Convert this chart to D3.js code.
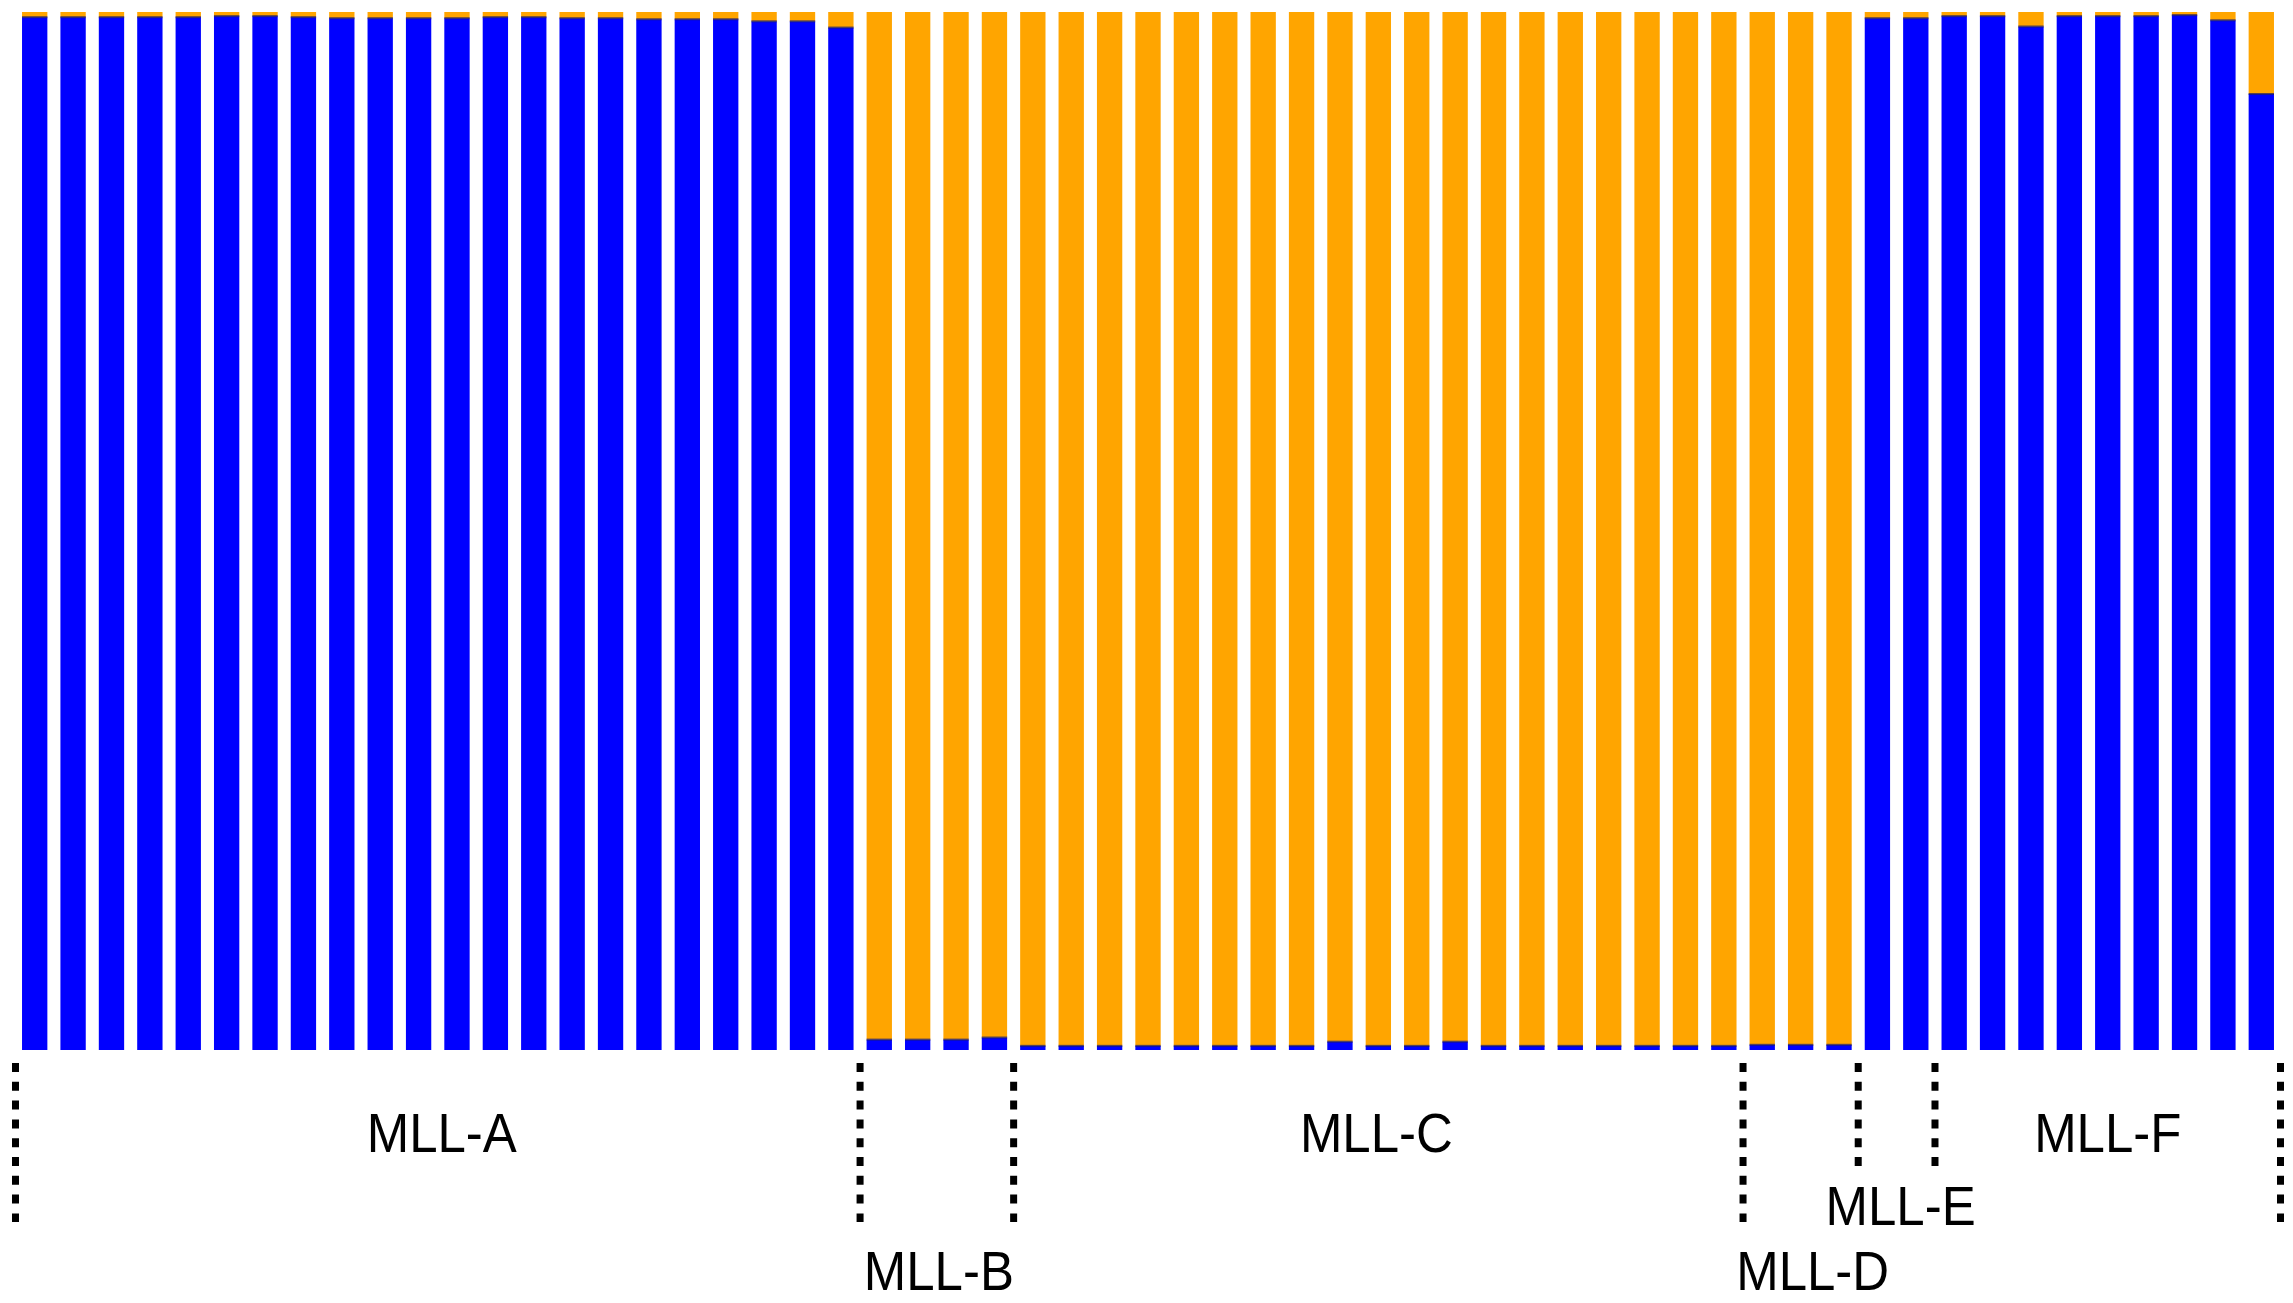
<!DOCTYPE html>
<html>
<head>
<meta charset="utf-8">
<script src="https://cdn.jsdelivr.net/npm/d3@7"></script>
<style>
  html, body { margin: 0; padding: 0; background: #fff; }
  svg { display: block; }
</style>
</head>
<body>
<svg id="chart" width="2293" height="1303"></svg>
<script>
// ---- Data ----
const groups = ["MLL-A", "MLL-B", "MLL-C", "MLL-D", "MLL-E", "MLL-F"];
const groupSizes = [22, 4, 19, 3, 2, 9];

// membership coefficient of the "blue" cluster for each individual (in order)
const blueA = [0.995, 0.995, 0.995, 0.995, 0.995, 0.996, 0.996, 0.995, 0.994, 0.994, 0.994,
               0.994, 0.995, 0.995, 0.994, 0.994, 0.993, 0.993, 0.993, 0.991, 0.991, 0.985];
const blueB = [0.010, 0.010, 0.010, 0.012];
const blueC = [0.004, 0.004, 0.004, 0.004, 0.004, 0.004, 0.004, 0.004, 0.008, 0.004,
               0.004, 0.008, 0.004, 0.004, 0.004, 0.004, 0.004, 0.004, 0.004];
const blueD = [0.005, 0.005, 0.005];
const blueE = [0.994, 0.994];
const blueF = [0.996, 0.996, 0.986, 0.996, 0.996, 0.996, 0.997, 0.992, 0.921];

// membership coefficient of the "orange" cluster
const orangeA = [0.005, 0.005, 0.005, 0.005, 0.005, 0.004, 0.004, 0.005, 0.006, 0.006, 0.006,
                 0.006, 0.005, 0.005, 0.006, 0.006, 0.007, 0.007, 0.007, 0.009, 0.009, 0.015];
const orangeB = [0.990, 0.990, 0.990, 0.988];
const orangeC = [0.996, 0.996, 0.996, 0.996, 0.996, 0.996, 0.996, 0.996, 0.992, 0.996,
                 0.996, 0.992, 0.996, 0.996, 0.996, 0.996, 0.996, 0.996, 0.996];
const orangeD = [0.995, 0.995, 0.995];
const orangeE = [0.006, 0.006];
const orangeF = [0.004, 0.004, 0.014, 0.004, 0.004, 0.004, 0.003, 0.008, 0.079];

// ---- Build table ----
const blue = [].concat(blueA, blueB, blueC, blueD, blueE, blueF);
const orange = [].concat(orangeA, orangeB, orangeC, orangeD, orangeE, orangeF);
const table = blue.map((b, i) => ({ id: i, blue: b, orange: orange[i] }));

// ---- Layout / style ----
const colors = { blue: "#0000ff", orange: "#ffa500" };
const svg = d3.select("#chart");

const x = d3.scaleBand()
  .domain(table.map(d => d.id))
  .range([15.5, 2280.5])
  .paddingInner(0.34)
  .paddingOuter(0.17);

const y = d3.scaleLinear().domain([0, 1]).range([1050, 12]);

const stack = d3.stack().keys(["blue", "orange"]);
const series = stack(table);

const gBars = svg.append("g");
gBars.selectAll("g.layer")
  .data(series)
  .join("g")
  .attr("class", "layer")
  .attr("fill", s => colors[s.key])
  .selectAll("rect")
  .data(s => s)
  .join("rect")
  .attr("x", d => x(d.data.id))
  .attr("width", x.bandwidth())
  .attr("y", d => y(d[1]))
  .attr("height", d => y(d[0]) - y(d[1]));

// thin dark seam between the two clusters
gBars.selectAll("rect.seam")
  .data(table)
  .join("rect")
  .attr("class", "seam")
  .attr("x", d => x(d.id))
  .attr("width", x.bandwidth())
  .attr("y", d => y(d.blue) - 1)
  .attr("height", 2)
  .attr("fill", "#1c1c6e")
  .attr("opacity", 0.75);

// ---- Group boundaries (dotted) ----
const step = x.step();
const edge = i => x(i) - step * x.paddingInner() / 2;
let cum = [0];
groupSizes.forEach(s => cum.push(cum[cum.length - 1] + s));
const boundaryX = cum.map(c => c === table.length
  ? x(table.length - 1) + x.bandwidth() + step * x.paddingInner() / 2
  : edge(c));

const lineTop = 1063;
const shortBoundaries = new Set([4, 5]); // D|E and E|F
svg.append("g")
  .selectAll("line")
  .data(boundaryX)
  .join("line")
  .attr("x1", d => d).attr("x2", d => d)
  .attr("y1", lineTop)
  .attr("y2", (d, i) => shortBoundaries.has(i) ? 1170 : 1222)
  .attr("stroke", "#000")
  .attr("stroke-width", 7)
  .attr("stroke-dasharray", "9,9.8");

// ---- Group labels ----
const labelPos = {
  "MLL-A": { y: 1152, dx: 4 },
  "MLL-B": { y: 1290, dx: 2 },
  "MLL-C": { y: 1152, dx: -2 },
  "MLL-D": { y: 1290, dx: 12 },
  "MLL-E": { y: 1225, dx: 4 },
  "MLL-F": { y: 1152, dx: 0 }
};
svg.append("g")
  .selectAll("text")
  .data(groups)
  .join("text")
  .attr("transform", (g, i) => {
    const cx = (boundaryX[i] + boundaryX[i + 1]) / 2 + labelPos[g].dx;
    return `translate(${cx},${labelPos[g].y}) scale(0.91,1)`;
  })
  .attr("text-anchor", "middle")
  .attr("font-family", "'Liberation Sans', Arial, Helvetica, sans-serif")
  .attr("font-size", 56)
  .attr("fill", "#000")
  .text(g => g);
</script>
</body>
</html>
